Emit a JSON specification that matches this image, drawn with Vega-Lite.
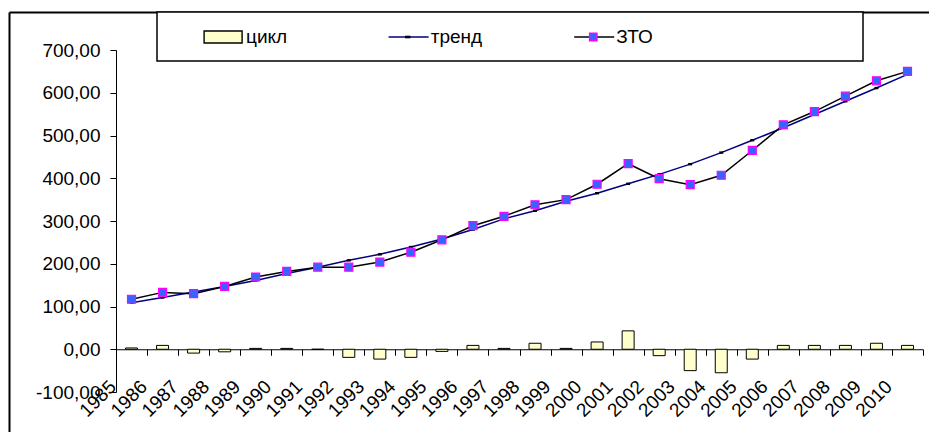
{
  "$schema": "https://vega.github.io/schema/vega-lite/v6.json",
  "width": 807,
  "height": 342,
  "autosize": "none",
  "padding": {"left": 116, "top": 50, "right": 6, "bottom": 40},
  "background": "white",
  "config": {
    "view": {"stroke": null},
    "font": "Liberation Sans",
    "legend": {"strokeWidth": 1.5},
    "axisY": {
      "domain": true, "domainColor": "black", "domainWidth": 1,
      "ticks": true, "tickColor": "black", "tickSize": 6, "tickWidth": 1,
      "grid": true, "gridColor": "black", "gridWidth": 1,
      "labelFont": "Liberation Sans", "labelFontSize": 19, "labelColor": "black",
      "labelPadding": 10, "labelBaseline": "middle",
      "labelExpr": "(datum.value < 0 ? '-' : '') + replace(format(abs(datum.value), '.2f'), '.', ',')",
      "title": null
    },
    "axisX": {
      "domain": true, "domainColor": "black", "domainWidth": 1,
      "ticks": true, "tickColor": "black", "tickSize": 6, "tickWidth": 1,
      "grid": false,
      "labelFont": "Liberation Sans", "labelFontSize": 19, "labelColor": "black",
      "labelAngle": -45, "labelAlign": "right", "labelBaseline": "middle",
      "labelPadding": 28, "labelOffset": -19, "labelOverlap": false,
      "title": null
    }
  },
  "resolve": {
    "scale": {"x": "independent", "y": "independent", "shape": "independent", "color": "independent", "fill": "independent", "stroke": "independent"},
    "axis": {"x": "independent", "y": "independent"}
  },
  "layer": [
    {
      "data": {"values": [{"line": "1", "k": 0}, {"line": "2", "k": 0.5}, {"line": "3", "k": 1}]},
      "mark": {"type": "point", "filled": false, "opacity": 0},
      "encoding": {
        "x": {"field": "k", "type": "quantitative", "title": null,
              "scale": {"domain": [0, 1], "range": [-107, 830], "nice": false, "zero": false},
              "axis": {"orient": "top", "offset": 38, "domain": true, "domainColor": "#000000", "domainWidth": 2, "ticks": false, "labels": false, "grid": false}},
        "y": {"field": "k", "type": "quantitative", "title": null,
              "scale": {"domain": [0, 1], "range": [400, -38], "nice": false, "zero": false},
              "axis": {"orient": "left", "offset": 107, "domain": true, "domainColor": "#000000", "domainWidth": 2, "ticks": false, "labels": false, "grid": false}},
        "color": {
          "field": "line", "type": "nominal",
          "scale": {"range": ["transparent", "#000080", "#000000"]},
          "legend": {
            "orient": "none", "legendX": 41, "legendY": -38, "direction": "horizontal",
            "title": "00", "titleOrient": "left", "titleFontSize": 19, "titleFont": "Liberation Sans", "titleOpacity": 0, "titlePadding": 20,
            "symbolSize": 400, "symbolStrokeWidth": 1.4, "symbolOpacity": 1, "symbolOffset": 0,
            "labelOffset": 12, "labelFont": "Liberation Sans", "labelFontSize": 19, "labelOpacity": 0, "labelLimit": 800,
            "labelExpr": "''",
            "columnPadding": 80.6, "padding": 14, "gridAlign": "each",
            "strokeColor": "#000000", "fillColor": "#ffffff"
          }
        },
        "shape": {
          "field": "line", "type": "nominal",
          "scale": {"range": ["M-2,0M7.75,0M-2,0H2", "M-2,0M7.9,0M-2,0H2", "M-2,0M25.2,0M-2,0H2"]}
        }
      }
    },
    {
      "data": {
        "values": [
          {"year": "1985", "zto": 117, "trend": 109, "cycle": 3},
          {"year": "1986", "zto": 133, "trend": 121, "cycle": 9},
          {"year": "1987", "zto": 130, "trend": 134, "cycle": -9},
          {"year": "1988", "zto": 147, "trend": 147, "cycle": -6},
          {"year": "1989", "zto": 169, "trend": 161, "cycle": 2},
          {"year": "1990", "zto": 182, "trend": 177, "cycle": 2},
          {"year": "1991", "zto": 192, "trend": 192, "cycle": 0},
          {"year": "1992", "zto": 192, "trend": 208, "cycle": -19},
          {"year": "1993", "zto": 204, "trend": 222, "cycle": -23},
          {"year": "1994", "zto": 227, "trend": 239, "cycle": -19},
          {"year": "1995", "zto": 256, "trend": 258, "cycle": -5},
          {"year": "1996", "zto": 289, "trend": 280, "cycle": 9},
          {"year": "1997", "zto": 311, "trend": 305, "cycle": 2},
          {"year": "1998", "zto": 338, "trend": 324, "cycle": 14},
          {"year": "1999", "zto": 350, "trend": 346, "cycle": 2},
          {"year": "2000", "zto": 386, "trend": 365, "cycle": 17},
          {"year": "2001", "zto": 434, "trend": 387, "cycle": 43},
          {"year": "2002", "zto": 399, "trend": 409, "cycle": -15},
          {"year": "2003", "zto": 385, "trend": 433, "cycle": -50},
          {"year": "2004", "zto": 407, "trend": 460, "cycle": -55},
          {"year": "2005", "zto": 465, "trend": 489, "cycle": -23},
          {"year": "2006", "zto": 525, "trend": 518, "cycle": 9},
          {"year": "2007", "zto": 556, "trend": 549, "cycle": 9},
          {"year": "2008", "zto": 592, "trend": 580, "cycle": 9},
          {"year": "2009", "zto": 628, "trend": 611, "cycle": 14},
          {"year": "2010", "zto": 650, "trend": 643, "cycle": 9}
        ]
      },
      "layer": [
        {
          "data": {"values": [{"series": "цикл"}, {"series": "тренд"}, {"series": "ЗТО"}]},
          "mark": {"type": "point", "filled": true, "opacity": 0},
          "encoding": {
            "color": {
              "field": "series", "type": "nominal",
              "scale": {"domain": ["цикл", "тренд", "ЗТО"], "range": ["#FFFFCC", "#000000", "#3366FF"]},
              "legend": {
                "orient": "none", "legendX": 82.1, "legendY": -38, "direction": "horizontal",
                "title": null,
                "symbolSize": 400, "symbolStrokeWidth": 1.4, "symbolOpacity": 1, "symbolOffset": 0,
                "symbolFillColor": "#3366FF", "symbolStrokeColor": "#000000",
                "labelOffset": 12, "labelFont": "Liberation Sans", "labelFontSize": 19, "labelColor": "#000000", "labelLimit": 800,
                "columnPadding": 80.6, "padding": 14, "gridAlign": "each"
              }
            },
            "stroke": {
              "field": "series", "type": "nominal",
              "scale": {"domain": ["цикл", "тренд", "ЗТО"], "range": ["#000000", "#000000", "#FF00FF"]},
              "legend": {"symbolFillColor": "#3366FF", "symbolStrokeColor": "#000000", "symbolOpacity": 1}
            },
            "shape": {
              "field": "series", "type": "nominal",
              "scale": {"domain": ["цикл", "тренд", "ЗТО"], "range": [
                "M-2,0M7.75,0M-1.9,-0.6H1.9V0.6H-1.9Z",
                "M-2,0M7.9,0M-0.2,-0.06H0.2V0.06H-0.2Z",
                "M-2,0M7.75,0M-0.37,-0.37H0.37V0.37H-0.37Z"
              ]},
              "legend": {"symbolFillColor": "#3366FF", "symbolStrokeColor": "#000000", "symbolOpacity": 1}
            }
          }
        },
        {
          "mark": {"type": "bar", "fill": "#FFFFCC", "stroke": "#000000", "strokeWidth": 1, "size": 12},
          "encoding": {
            "x": {"field": "year", "type": "ordinal", "title": null,
                  "scale": {"paddingInner": 0, "paddingOuter": 0},
                  "axis": {"orient": "bottom", "offset": -42.75, "tickBand": "extent"}},
            "y": {"field": "cycle", "type": "quantitative", "title": null,
                  "scale": {"domain": [-100, 700], "nice": false, "zero": false},
                  "axis": {"orient": "left", "values": [-100, 0, 100, 200, 300, 400, 500, 600, 700]}}
          }
        },
        {
          "mark": {"type": "line", "color": "#000080", "strokeWidth": 1.5},
          "encoding": {
            "x": {"field": "year", "type": "ordinal", "title": null},
            "y": {"field": "trend", "type": "quantitative", "title": null}
          }
        },
        {
          "mark": {"type": "point", "shape": "M-1,-0.6H1V0.6H-1Z", "filled": true, "fill": "#000000", "strokeWidth": 0, "size": 16, "opacity": 1},
          "encoding": {
            "x": {"field": "year", "type": "ordinal", "title": null},
            "y": {"field": "trend", "type": "quantitative", "title": null}
          }
        },
        {
          "mark": {"type": "line", "color": "#000000", "strokeWidth": 1.5},
          "encoding": {
            "x": {"field": "year", "type": "ordinal", "title": null},
            "y": {"field": "zto", "type": "quantitative", "title": null}
          }
        },
        {
          "mark": {"type": "point", "shape": "square", "filled": true, "fill": "#3366FF", "stroke": "#FF00FF", "strokeWidth": 1.2, "size": 64, "opacity": 1},
          "encoding": {
            "x": {"field": "year", "type": "ordinal", "title": null},
            "y": {"field": "zto", "type": "quantitative", "title": null}
          }
        }
      ]
    }
  ]
}
